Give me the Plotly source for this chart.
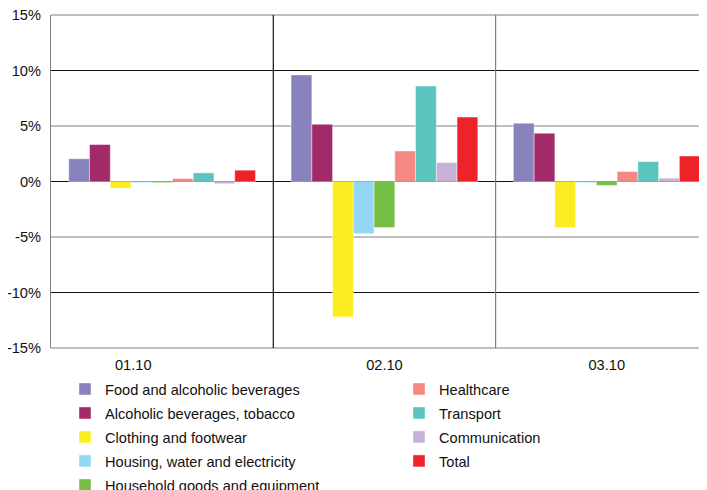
import plotly.graph_objects as go

periods = ["01.10", "02.10", "03.10"]
series_names = [
    "Food and alcoholic beverages",
    "Alcoholic beverages, tobacco",
    "Clothing and footwear",
    "Housing, water and electricity",
    "Household goods and equipment",
    "Healthcare",
    "Transport",
    "Communication",
    "Total",
]
food = [2.05, 9.6, 5.25]
alcohol = [3.33, 5.15, 4.35]
clothing = [-0.6, -12.2, -4.15]
housing = [-0.1, -4.7, -0.1]
household = [-0.1, -4.15, -0.35]
healthcare = [0.27, 2.75, 0.9]
transport = [0.78, 8.6, 1.8]
communication = [-0.2, 1.7, 0.3]
total = [1.02, 5.8, 2.3]
y_ticks = [-15, -10, -5, 0, 5, 10, 15]

values = [food, alcohol, clothing, housing, household, healthcare, transport, communication, total]
colors = ["#8882BD", "#A32A68", "#FCEC22", "#94D7F5", "#76BF46",
          "#F48883", "#5CC4BE", "#C7B2D6", "#EE2229"]

W, H = 699, 482

xs = list(range(len(periods)))
fig = go.Figure()
for i, (name, vals, col) in enumerate(zip(series_names, values, colors)):
    fig.add_trace(go.Bar(
        x=xs, y=vals, name=name,
        marker=dict(color=col, line=dict(width=0.6, color="rgba(255,255,255,0.7)")),
        legend="legend" if i < 5 else "legend2",
        legendgroup=name,
    ))

shapes = []
ymin, ymax = min(y_ticks), max(y_ticks)
for t in y_ticks:
    c = "#111111" if t % 10 == 0 else "#808080"
    if t in (ymin, ymax):
        yp = 0 if t == ymin else 1
        shapes.append(dict(type="line", xref="paper", x0=0, x1=1, yref="paper", y0=yp, y1=yp,
                           line=dict(color=c, width=1.2), layer="below"))
    else:
        shapes.append(dict(type="line", xref="paper", x0=0, x1=1, yref="y", y0=t, y1=t,
                           line=dict(color=c, width=1.2), layer="below"))
for k, xv in enumerate([0.5, 1.5]):
    shapes.append(dict(type="line", xref="x", x0=xv, x1=xv, yref="paper", y0=0, y1=1,
                       line=dict(color="#111111" if k == 0 else "#808080", width=1.2),
                       layer="below"))

font = dict(family="Liberation Sans, Arial, sans-serif", size=14.6, color="#111111")
leg_common = dict(xref="container", yref="container", xanchor="left", yanchor="top",
                  bgcolor="rgba(0,0,0,0)", borderwidth=0, font=font,
                  tracegroupgap=2.0, orientation="v")

fig.update_layout(
    width=W, height=H,
    margin=dict(l=43, r=0, t=7, b=142, autoexpand=False),
    paper_bgcolor="white", plot_bgcolor="white",
    barmode="group", bargap=0.16, bargroupgap=0,
    font=font,
    shapes=shapes,
    xaxis=dict(range=[-0.5, 2.451], tickvals=[-0.13, 1, 2], ticktext=periods,
               showgrid=False, zeroline=False, showline=False, ticks="",
               tickfont=font, tickangle=0, automargin=False, ticklabelstandoff=6,
               ticklabeloverflow="allow"),
    yaxis=dict(range=[ymin, ymax], tickvals=y_ticks, ticktext=[f"{v}%" for v in y_ticks],
               showgrid=False, zeroline=False, showline=True, linecolor="#808080",
               linewidth=1.2, ticks="", ticklabelstandoff=6, tickfont=font,
               automargin=False, ticklabeloverflow="allow"),
    legend=dict(x=57 / W, y=1 - 365 / H, **leg_common),
    legend2=dict(x=391 / W, y=1 - 365 / H, **leg_common),
)

fig.write_html("out.html")
